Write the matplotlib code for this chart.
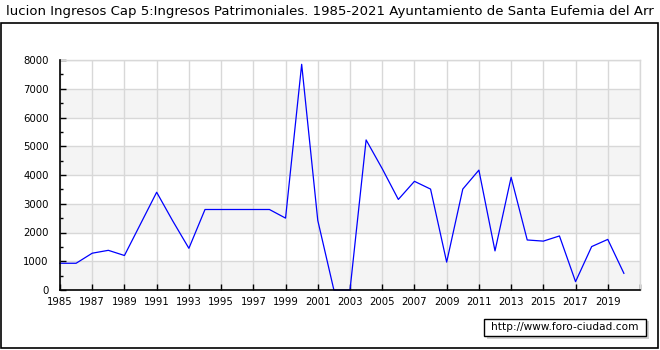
import matplotlib
matplotlib.use("Agg")
import matplotlib.pyplot as plt
from matplotlib.patches import Rectangle

# title as it is visible in the reference (clipped at both picture edges there)
TITLE = "lucion Ingresos Cap 5:Ingresos Patrimoniales. 1985-2021 Ayuntamiento de Santa Eufemia del Arr"
WATERMARK = "http://www.foro-ciudad.com"

years = list(range(1985, 2021))
values = [930, 930, 1280, 1380, 1200, 2300, 3400, 2400, 1450, 2800,
          2800, 2800, 2800, 2800, 2500, 7850, 2420, 0, 0, 5220,
          4220, 3150, 3780, 3510, 970, 3510, 4170, 1360, 3920, 1740,
          1700, 1880, 290, 1510, 1760, 580]
xticks = list(range(1985, 2021, 2))
yticks = list(range(0, 8001, 1000))

fig = plt.figure(figsize=(6.6, 3.5), dpi=100, facecolor="white")

# outer frame
fig.patches.append(Rectangle((1 / 660, 2 / 350), 657 / 660, 325 / 350,
                             transform=fig.transFigure, fill=False,
                             edgecolor="black", linewidth=1.2))

fig.text(0.5, 1 - 12 / 350, TITLE, ha="center", va="center",
         fontsize=9.5, family="DejaVu Sans", color="black")

ax = fig.add_axes([60 / 660, 60 / 350, 580 / 660, 230 / 350])
ax.set_facecolor("white")
for lo in range(0, 8000, 2000):
    ax.axhspan(lo, lo + 1000, color="#f4f4f4", zorder=0, linewidth=0)

ax.plot(years, values, color="#0000ff", linewidth=0.9, zorder=3, clip_on=False)

ax.set_xlim(1985, 2021)
ax.set_ylim(0, 8000)
ax.set_xticks(xticks + [2021])
ax.set_xticklabels([str(y) for y in xticks] + [""])
ax.set_yticks(yticks)
ax.set_yticks(range(500, 8000, 1000), minor=True)
ax.grid(True, which="major", color="#d8d8d8", linewidth=1, zorder=1)
ax.set_axisbelow(True)

for s in ["top", "right"]:
    ax.spines[s].set_color("#d8d8d8")
    ax.spines[s].set_linewidth(1)
for s in ["left", "bottom"]:
    ax.spines[s].set_color("black")
    ax.spines[s].set_linewidth(1.2)
    ax.spines[s].set_zorder(4)

ax.tick_params(axis="both", which="major", direction="in", length=4,
               width=1, labelsize=7.3, color="black")
ax.tick_params(axis="y", which="major", pad=8)
ax.tick_params(axis="x", which="major", pad=5)
ax.tick_params(axis="y", which="minor", direction="in", length=2.5, width=1)
ax.tick_params(top=False, right=False)

# watermark box with shadow
fig.patches.append(Rectangle((487 / 660, 1 - 339 / 350), 162 / 660, 18 / 350,
                             transform=fig.transFigure, facecolor="#d0d0d0",
                             edgecolor="none"))
fig.patches.append(Rectangle((484 / 660, 1 - 336 / 350), 162 / 660, 17 / 350,
                             transform=fig.transFigure, facecolor="white",
                             edgecolor="black", linewidth=1))
fig.text(565 / 660, 1 - 327.5 / 350, WATERMARK, ha="center", va="center",
         fontsize=7.6, color="black")

fig.savefig("out.png", dpi=100, facecolor="white")
